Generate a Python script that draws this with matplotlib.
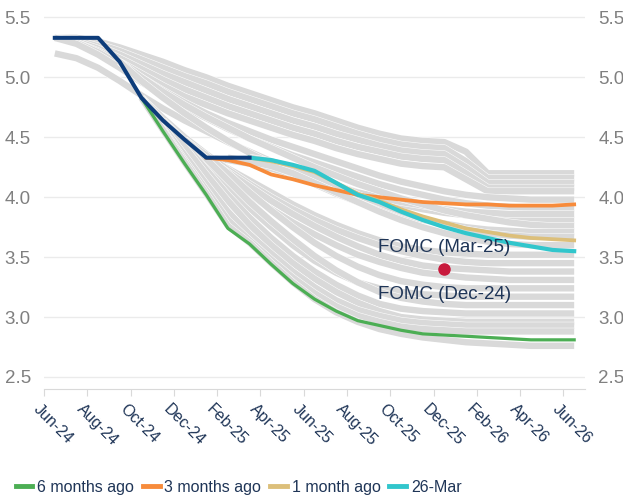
import matplotlib.pyplot as plt
import matplotlib.patheffects as pe
import matplotlib.transforms as mtransforms
import numpy as np
from matplotlib.lines import Line2D

N = None

months = ["Jun-24", "Jul-24", "Aug-24", "Sep-24", "Oct-24", "Nov-24", "Dec-24",
          "Jan-25", "Feb-25", "Mar-25", "Apr-25", "May-25", "Jun-25", "Jul-25",
          "Aug-25", "Sep-25", "Oct-25", "Nov-25", "Dec-25", "Jan-26", "Feb-26",
          "Mar-26", "Apr-26", "May-26", "Jun-26"]
tick_labels = months[::2]

realized = [5.33, 5.33, 5.33, 5.13, 4.83, 4.64, 4.48, 4.33, 4.33, 4.33] + [N] * 15

six_months_ago = [N] * 4 + [4.83, 4.55, 4.28, 4.02, 3.74, 3.61, 3.44, 3.28, 3.15, 3.05, 2.97,
                            2.93, 2.89, 2.86, 2.85, 2.84, 2.83, 2.82, 2.81, 2.81, 2.81]
three_months_ago = [N] * 7 + [4.33, 4.31, 4.27, 4.19, 4.15, 4.10, 4.06, 4.02, 4.00, 3.98,
                              3.96, 3.95, 3.94, 3.94, 3.93, 3.93, 3.93, 3.94]
one_month_ago = [N] * 9 + [4.33, 4.30, 4.26, 4.21, 4.12, 4.03, 3.97, 3.90, 3.84, 3.79,
                           3.74, 3.71, 3.68, 3.66, 3.65, 3.64]
latest = [N] * 9 + [4.33, 4.31, 4.27, 4.22, 4.12, 4.02, 3.96, 3.88, 3.81, 3.75,
                    3.70, 3.66, 3.62, 3.59, 3.56, 3.55]

# older forward curves (grey)
history = [
    [5.33, 5.33, 5.30, 5.25, 5.19, 5.13, 5.06, 5.00, 4.93, 4.87, 4.81, 4.75, 4.70, 4.64, 4.58,
     4.53, 4.49, 4.47, 4.46, 4.38, 4.20, 4.20, 4.20, 4.20, 4.20],
    [5.33, 5.32, 5.28, 5.22, 5.15, 5.08, 5.01, 4.95, 4.88, 4.82, 4.76, 4.70, 4.65, 4.59, 4.53,
     4.48, 4.44, 4.42, 4.41, 4.30, 4.16, 4.16, 4.16, 4.16, 4.16],
    [5.33, 5.31, 5.26, 5.19, 5.11, 5.03, 4.96, 4.89, 4.82, 4.76, 4.70, 4.64, 4.59, 4.53, 4.48,
     4.43, 4.39, 4.37, 4.36, 4.25, 4.12, 4.12, 4.12, 4.12, 4.12],
    [5.33, 5.30, 5.24, 5.16, 5.07, 4.98, 4.90, 4.83, 4.76, 4.70, 4.64, 4.58, 4.53, 4.47, 4.42,
     4.38, 4.34, 4.32, 4.31, 4.20, 4.08, 4.08, 4.08, 4.08, 4.08],
    [5.33, 5.29, 5.22, 5.13, 5.03, 4.93, 4.84, 4.77, 4.70, 4.64, 4.58, 4.52, 4.47, 4.41, 4.36,
     4.32, 4.28, 4.26, 4.25, 4.15, 4.05, 4.05, 4.05, 4.05, 4.05],
    [5.33, 5.29, 5.21, 5.11, 5.00, 4.89, 4.79, 4.70, 4.62, 4.55, 4.48, 4.42, 4.36, 4.30, 4.24,
     4.18, 4.13, 4.09, 4.05, 4.02, 4.00, 3.99, 3.98, 3.98, 3.98],
    [5.33, 5.28, 5.19, 5.08, 4.96, 4.85, 4.75, 4.66, 4.57, 4.49, 4.42, 4.35, 4.29, 4.23, 4.17,
     4.11, 4.06, 4.02, 3.98, 3.95, 3.93, 3.92, 3.91, 3.91, 3.91],
    [5.20, 5.16, 5.08, 4.97, 4.85, 4.74, 4.64, 4.55, 4.46, 4.38, 4.30, 4.23, 4.16, 4.10, 4.04,
     3.99, 3.94, 3.90, 3.87, 3.85, 3.83, 3.82, 3.81, 3.81, 3.81],
    [N] * 7 + [4.33, 4.31, 4.28, 4.24, 4.19, 4.14, 4.09, 4.04, 4.00, 3.96, 3.93, 3.90, 3.88,
               3.87, 3.86, 3.86, 3.86, 3.86],
    [N] * 3 + [5.13, 5.00, 4.88, 4.77, 4.67, 4.58, 4.49, 4.41, 4.33, 4.25, 4.18, 4.11, 4.05,
               3.99, 3.94, 3.89, 3.85, 3.82, 3.79, 3.77, 3.76, 3.76],
    [N] * 3 + [5.13, 4.97, 4.83, 4.70, 4.58, 4.47, 4.37, 4.28, 4.19, 4.11, 4.03, 3.96, 3.90,
               3.85, 3.81, 3.78, 3.75, 3.73, 3.72, 3.71, 3.71, 3.71],
    [N] * 9 + [4.33, 4.30, 4.25, 4.18, 4.10, 4.02, 3.95, 3.88, 3.82, 3.77, 3.73, 3.70, 3.68,
               3.67, 3.67, 3.67],
    [N] * 8 + [4.33, 4.30, 4.26, 4.20, 4.12, 4.04, 3.96, 3.88, 3.81, 3.75, 3.70, 3.66, 3.63,
               3.61, 3.60, 3.60, 3.60],
    [N] * 7 + [4.33, 4.24, 4.14, 4.04, 3.94, 3.85, 3.77, 3.70, 3.64, 3.59, 3.56, 3.54, 3.53,
               3.52, 3.52, 3.52, 3.52, 3.52],
    [N] * 4 + [4.83, 4.66, 4.50, 4.36, 4.23, 4.11, 4.00, 3.90, 3.81, 3.73, 3.66, 3.60, 3.55,
               3.51, 3.48, 3.46, 3.45, 3.45, 3.45, 3.45, 3.45],
    [N] * 7 + [4.33, 4.21, 4.09, 3.97, 3.86, 3.76, 3.67, 3.59, 3.52, 3.47, 3.43, 3.41, 3.40,
               3.39, 3.38, 3.38, 3.38, 3.38],
    [N] * 4 + [4.83, 4.63, 4.45, 4.29, 4.15, 4.02, 3.90, 3.79, 3.69, 3.60, 3.52, 3.46, 3.41,
               3.37, 3.35, 3.33, 3.32, 3.31, 3.31, 3.31, 3.31],
    [N] * 6 + [4.48, 4.35, 4.20, 4.04, 3.89, 3.75, 3.62, 3.51, 3.42, 3.35, 3.30, 3.27, 3.25,
               3.24, 3.24, 3.24, 3.24, 3.24, 3.24],
    [N] * 5 + [4.64, 4.47, 4.28, 4.09, 3.91, 3.75, 3.60, 3.47, 3.37, 3.29, 3.24, 3.21, 3.19,
               3.18, 3.17, 3.17, 3.17, 3.17, 3.17, 3.17],
    [N] * 6 + [4.48, 4.32, 4.14, 3.96, 3.80, 3.65, 3.51, 3.39, 3.29, 3.21, 3.16, 3.13, 3.11,
               3.10, 3.10, 3.10, 3.10, 3.10, 3.10],
    [N] * 5 + [4.64, 4.44, 4.23, 4.02, 3.83, 3.66, 3.51, 3.38, 3.27, 3.18, 3.11, 3.07, 3.05,
               3.04, 3.03, 3.03, 3.03, 3.03, 3.03, 3.03],
    [N] * 5 + [4.64, 4.42, 4.19, 3.97, 3.77, 3.60, 3.45, 3.32, 3.21, 3.12, 3.05, 3.00, 2.98,
               2.97, 2.96, 2.96, 2.96, 2.96, 2.96, 2.96],
    [N] * 4 + [4.83, 4.59, 4.35, 4.11, 3.88, 3.69, 3.53, 3.38, 3.25, 3.14, 3.06, 3.01, 2.97,
               2.95, 2.94, 2.93, 2.93, 2.93, 2.93, 2.93, 2.93],
    [N] * 4 + [4.83, 4.57, 4.31, 4.06, 3.81, 3.64, 3.48, 3.33, 3.20, 3.09, 3.01, 2.96, 2.92,
               2.90, 2.89, 2.88, 2.88, 2.88, 2.88, 2.88, 2.88],
    [N] * 4 + [4.83, 4.56, 4.29, 4.03, 3.76, 3.62, 3.45, 3.29, 3.15, 3.04, 2.96, 2.90, 2.86,
               2.83, 2.81, 2.79, 2.78, 2.77, 2.76, 2.76, 2.76],
]

fomc_x = "Dec-25"
fomc_y = 3.40

navy_text = "#1f3557"
x = np.arange(len(months))

fig = plt.figure(figsize=(6.23, 5.01), dpi=100)
ax = fig.add_axes([0.0706, 0.2236, 0.8684, 0.7535])

for curve in history:
    ax.plot(x, np.array(curve, dtype=float), color="#d9d9d9", lw=4.6,
            solid_capstyle="butt", solid_joinstyle="round",
            path_effects=[pe.Stroke(linewidth=5.3, foreground="white"), pe.Normal()])

ax.plot(x, np.array(six_months_ago, dtype=float), color="#4cae54", lw=2.3)
ax.plot(x, np.array(three_months_ago, dtype=float), color="#f78b3b", lw=2.7)
ax.plot(x, np.array(one_month_ago, dtype=float), color="#dcbf7a", lw=2.7)
ax.plot(x, np.array(latest, dtype=float), color="#31c6cc", lw=3.0)
ax.plot(x, np.array(realized, dtype=float), color="#0d3c7a", lw=2.9)

fx = months.index(fomc_x)
ax.plot(fx, fomc_y, "o", color="#c8193c", ms=8, zorder=5)
ax.text(fx, fomc_y + 0.18, "FOMC (Mar-25)", ha="center", va="center",
        fontsize=13.5, color=navy_text, family="Liberation Sans")
ax.text(fx, fomc_y - 0.21, "FOMC (Dec-24)", ha="center", va="center",
        fontsize=13.5, color=navy_text, family="Liberation Sans")

ax.set_xlim(-0.5, len(months) - 0.5)
ax.set_ylim(2.4, 5.55)
ax.set_yticks([2.5, 3.0, 3.5, 4.0, 4.5, 5.0, 5.5])
ax.set_yticklabels(["2.5", "3.0", "3.5", "4.0", "4.5", "5.0", "5.5"])
ax.grid(axis="y", color="#ebebeb", lw=1)
ax.set_axisbelow(True)

ax.set_xticks(np.arange(len(tick_labels)) * 2 - 0.5)
ax.set_xticklabels(tick_labels)

for s in ["top", "left", "right"]:
    ax.spines[s].set_visible(False)
ax.spines["bottom"].set_color("#d9d9d9")

ax.tick_params(axis="y", left=False, right=False, labelleft=True, labelright=True,
               labelsize=13.5, labelcolor="#808080", pad=6)
ax.tick_params(axis="x", length=5, color="#d9d9d9", labelsize=11.5,
               labelcolor=navy_text, pad=4)
for lab in ax.get_yticklabels():
    lab.set_family("Liberation Sans")

shift = mtransforms.ScaledTranslation(-3 / 100, 0, fig.dpi_scale_trans)
for lab in ax.get_xticklabels():
    lab.set_rotation(-45)
    lab.set_ha("left")
    lab.set_va("top")
    lab.set_rotation_mode("anchor")
    lab.set_family("Liberation Sans")
    lab.set_transform(lab.get_transform() + shift)

handles = [Line2D([], [], color="#4cae54", lw=3.5),
           Line2D([], [], color="#f78b3b", lw=3.5),
           Line2D([], [], color="#dcbf7a", lw=3.5),
           Line2D([], [], color="#31c6cc", lw=3.5)]
names = ["6 months ago", "3 months ago", "1 month ago", "26-Mar"]
leg = fig.legend(handles, names, loc="center left", bbox_to_anchor=(0.002, 0.027),
                 ncol=4, frameon=False, handlelength=1.05, handletextpad=0.3,
                 columnspacing=0.55, prop={"family": "Liberation Sans", "size": 11.5})
for t in leg.get_texts():
    t.set_color(navy_text)

fig.savefig("out.png", dpi=100)
